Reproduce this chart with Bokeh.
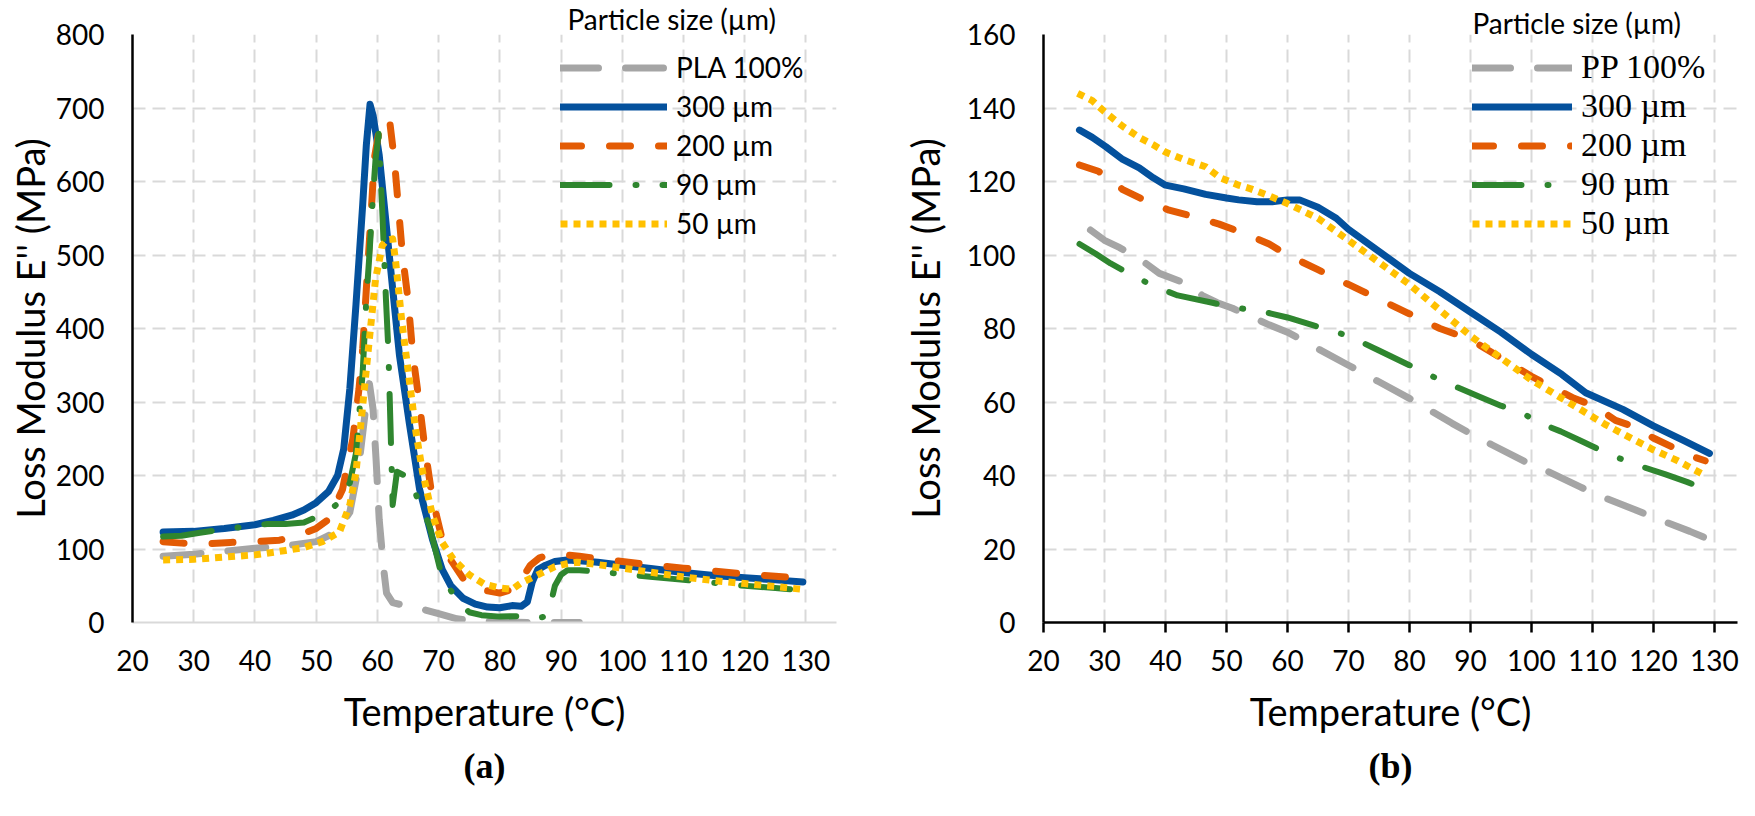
from bokeh.plotting import figure
from bokeh.models import Range1d, FixedTicker, Legend, LegendItem, Title
from bokeh.layouts import row
from bokeh.embed import file_html
from bokeh.resources import INLINE

# ---------------- data (a): PLA composites ----------------
x_ticks = [20, 30, 40, 50, 60, 70, 80, 90, 100, 110, 120, 130]
a_y_ticks = [0, 100, 200, 300, 400, 500, 600, 700, 800]
b_y_ticks = [0, 20, 40, 60, 80, 100, 120, 140, 160]

a_pla_T = [25, 30, 35, 40, 45, 50, 52, 54, 55.5, 57, 58, 58.7, 59.3, 59.8, 60.3, 61, 61.5, 62.5, 65, 67, 70, 73, 76, 80, 85, 93]
a_pla_E = [90, 93, 97, 101, 104, 110, 118, 132, 150, 215, 285, 325, 290, 220, 140, 75, 40, 27, 22, 19, 12, 5, 2, 1, 0, 0]

a_300_T = [25, 30, 35, 40, 43, 46, 48, 50, 52, 53.5, 54.5, 55.5, 56.5, 57.6, 58.2, 58.8, 59.3, 60.3, 61.4, 62.5, 63.6, 65.2,
           66.9, 69, 70.6, 72, 74, 76, 78, 80, 82, 83.5, 84.5, 85.3, 86.2, 87.5, 89, 91, 93, 96, 100, 105, 110, 115, 120, 125, 129.5]
a_300_E = [123, 124, 128, 133, 139, 146, 153, 163, 178, 200, 236, 318, 432, 568, 650, 705, 690, 636, 545, 454, 364, 272,
           181, 113, 72, 50, 33, 25, 21, 20, 23, 22, 28, 55, 72, 78, 83, 85, 84, 82, 78, 73, 68, 64, 61, 58, 55]

a_200_T = [25, 28, 32, 36, 40, 44, 47, 50, 52, 54.3, 56, 57, 57.6, 58.2, 59, 59.5, 60.3, 61.3, 62, 62.8, 64.1, 65, 65.8,
           66.9, 67.7, 69, 70.6, 72, 74, 76, 78, 80, 82, 83.5, 85, 86.5, 88, 90, 93, 97, 100, 105, 110, 115, 120, 125, 129.5]
a_200_E = [110, 108, 107, 109, 110, 112, 118, 128, 140, 181, 250, 318, 372, 454, 559, 631, 670, 686, 683, 627, 500, 440, 364,
           296, 241, 168, 113, 85, 60, 50, 43, 40, 45, 58, 78, 88, 92, 93, 90, 86, 83, 78, 74, 70, 66, 63, 60]

a_90_T = [25, 28, 31, 35, 38, 42, 45, 48, 50.7, 52.5, 54, 55.5, 56.5, 57.6, 58.2, 58.7, 59.2, 59.7, 60.2, 60.8, 61.4, 61.8,
          62.5, 63.2, 65.2, 66.5, 68.5, 70.5, 73, 75, 77, 80, 84, 86, 87.5, 88.3, 89, 90, 91, 93, 95, 100, 105, 110, 115,
          120, 125, 129.5]
a_90_E = [117, 118, 122, 127, 130, 134, 134, 136, 146, 155, 165, 190, 230, 340, 440, 500, 570, 630, 665, 560, 440, 370,
          160, 205, 197, 170, 132, 64, 30, 14, 10, 8, 9, 6, 8, 25, 50, 65, 71, 71, 70, 66, 62, 58, 54, 50, 47, 44]

a_50_T = [25, 30, 35, 40, 45, 48, 51, 53.8, 55.5, 56.5, 57.6, 58.7, 59.7, 60.8, 61.5, 62.5, 63, 64, 65.2, 66.3, 67.4, 69,
          70.5, 72.4, 75, 77.5, 80, 82, 83.5, 85.5, 87.5, 89, 91, 92.6, 95, 100, 105, 110, 115, 120, 125, 129.5]
a_50_E = [85, 86, 89, 92, 98, 102, 110, 123, 160, 204, 295, 386, 467, 513, 520, 522, 490, 409, 331, 259, 204, 146,
          110, 86, 65, 52, 47, 45, 54, 62, 70, 76, 80, 82, 80, 74, 68, 62, 57, 53, 49, 45]

# ---------------- data (b): PP composites ----------------
b_pp_T = [27.7, 30, 32.5, 36.7, 39, 44.4, 46, 48.5, 51, 53.5, 57, 60, 65, 70, 75, 80, 87, 90.8, 93.6, 99.3, 102, 108,
          110.8, 117, 120, 126, 129]
b_pp_E = [106.8, 104, 102, 97.8, 95, 91.6, 89, 87, 85.5, 83.6, 81, 79, 74.5, 70, 65.5, 61, 54.2, 50.7, 48.3, 43.5, 41.7,
          36.9, 34.7, 30.7, 28.6, 24.8, 22.7]

b_300_T = [25.9, 28, 30.2, 33, 35.7, 38, 40, 43, 46.6, 50, 52, 55, 57.5, 60, 62, 65, 68, 70, 75, 80, 85, 90, 95, 100,
           105, 108.9, 115, 120, 125, 129.2]
b_300_E = [134, 132, 129.5, 126, 123.7, 121, 119, 118, 116.5, 115.5, 115, 114.5, 114.5, 115, 115, 113, 110, 107, 101, 95,
           90, 84.5, 79, 73, 67.5, 62.5, 58, 53.5, 49.5, 46]

b_200_T = [25.9, 29, 33, 36.7, 40.6, 45, 48.8, 53, 57, 60, 65, 70, 75, 80, 85, 90, 95, 100, 104, 107, 110.5, 113.8,
           116.6, 120, 122.8, 126, 128.5]
b_200_E = [124.5, 122.8, 117.8, 114.8, 112.2, 110.3, 108.4, 105.8, 103, 100, 96, 92, 88, 84, 80, 77, 72, 67, 63.5, 61,
           58.8, 55, 53.4, 50.2, 48, 45.4, 44]

b_90_T = [25.9, 28.5, 31, 34, 38, 40, 42, 47.7, 51, 55, 57.5, 60, 65, 70, 75, 80, 85, 91.5, 95, 98.5, 101.5, 104.8, 108,
          111.6, 115, 118.5, 122, 125.6, 128.9]
b_90_E = [103, 100.4, 97.7, 95, 91.6, 90.3, 89, 87, 85.7, 85, 84, 83, 80.5, 78, 74, 70, 66, 61.4, 59, 57, 54.2, 52, 49.5,
          46.7, 44.3, 42.2, 40.3, 38.2, 36]

b_50_T = [25.6, 28, 30, 33, 35.7, 38, 40, 43, 46.6, 49, 52, 54, 56.4, 60, 65, 70, 75, 80, 85, 90, 95, 100, 104, 108, 112,
          116.5, 120, 124, 128.5]
b_50_E = [144, 142, 139, 135, 132, 130, 128, 126, 124, 121, 119, 118, 116.5, 114, 110, 104, 98, 92, 85, 78, 72, 66, 62,
          58, 54, 50, 47, 44, 40]

a_labels = ["PLA 100%", "300 \u00b5m", "200 \u00b5m", "90 \u00b5m", "50 \u00b5m"]
b_labels = ["PP 100%", "300 \u00b5m", "200 \u00b5m", "90 \u00b5m", "50 \u00b5m"]
legend_title = "Particle size (\u00b5m)"

SANS = "Lato"
SERIF = "Liberation Serif"

styles = [
    dict(line_color="#A5A5A5", line_width=7, line_dash="38 27", line_cap="round", line_join="round"),
    dict(line_color="#04519D", line_width=7, line_cap="round", line_join="round"),
    dict(line_color="#E35B04", line_width=7, line_dash="21 28", line_cap="round", line_join="round"),
    dict(line_color="#2F862F", line_width=6, line_dash="49 26 1 26", line_cap="round", line_join="round"),
    dict(line_color="#FFC000", line_width=7, line_dash="7 6", line_cap="butt", line_join="round"),
]


def make_plot(series, labels, y_ticks, y_end, x_end, borders, panel, legend_loc, legend_font, legend_size,
              legend_spacing, glyph_w, head_offset, head_standoff, dark_xaxis, title_offset, ylab_standoff):
    bl, br, bt, bb, w = borders
    p = figure(width=w, height=800, x_range=Range1d(20, x_end), y_range=Range1d(0, y_end),
               output_backend="svg", toolbar_location=None,
               min_border_left=bl, min_border_right=br, min_border_top=bt, min_border_bottom=bb)
    p.outline_line_color = None
    p.background_fill_color = "white"
    p.border_fill_color = "white"

    p.xaxis.ticker = FixedTicker(ticks=x_ticks)
    p.yaxis.ticker = FixedTicker(ticks=y_ticks)
    for g in (p.xgrid, p.ygrid):
        g.grid_line_color = "#D9D9D9"
        g.grid_line_width = 2
        g.grid_line_dash = "13 7"

    for ax in (p.xaxis, p.yaxis):
        ax.major_label_text_font = SANS
        ax.major_label_text_font_size = "28px"
        ax.major_label_text_color = "black"
        ax.axis_label_text_font = SANS
        ax.axis_label_text_font_size = "38px"
        ax.axis_label_text_font_style = "normal"
        ax.axis_label_text_color = "black"
        ax.minor_tick_line_color = None

    p.yaxis.axis_line_color = "black"
    p.yaxis.axis_line_width = 2.5
    p.yaxis.major_tick_line_color = None
    p.yaxis.major_tick_out = 0
    p.yaxis.major_tick_in = 0
    p.yaxis.major_label_standoff = 28
    p.yaxis.axis_label = "Loss Modulus E'' (MPa)"
    p.yaxis.axis_label_standoff = ylab_standoff

    if dark_xaxis:
        p.xaxis.axis_line_color = "black"
        p.xaxis.axis_line_width = 2.5
        p.xaxis.major_tick_line_color = "black"
        p.xaxis.major_tick_line_width = 2.5
        p.xaxis.major_tick_out = 10
        p.xaxis.major_tick_in = 0
        p.xaxis.major_label_standoff = 17
    else:
        p.xaxis.axis_line_color = "#D9D9D9"
        p.xaxis.axis_line_width = 2
        p.xaxis.major_tick_line_color = None
        p.xaxis.major_tick_out = 0
        p.xaxis.major_tick_in = 0
        p.xaxis.major_label_standoff = 27
    p.xaxis.axis_label = "Temperature (\u00b0C)"
    p.xaxis.axis_label_standoff = 14

    items = []
    for (T, E), lab, st in zip(series, labels, styles):
        r = p.line(T, E, **st)
        items.append(LegendItem(label=lab, renderers=[r]))

    leg = Legend(items=items, location=legend_loc,
                 label_text_font=legend_font, label_text_font_size=legend_size,
                 label_text_color="black",
                 glyph_width=glyph_w, glyph_height=31, label_height=31, label_standoff=9,
                 spacing=legend_spacing, padding=0, margin=0,
                 background_fill_alpha=0, border_line_alpha=0)
    p.add_layout(leg, "center")

    # legend heading, drawn above the frame
    p.add_layout(Title(text=legend_title, align="left", offset=head_offset, standoff=head_standoff,
                       text_font=SANS, text_font_size="28px", text_font_style="normal",
                       text_color="black"), "above")

    p.add_layout(Title(text=panel, align="center", text_font=SERIF, text_font_size="36px",
                       text_font_style="bold", text_color="black", offset=title_offset,
                       standoff=14), "below")
    return p


series_a = [(a_pla_T, a_pla_E), (a_300_T, a_300_E), (a_200_T, a_200_E), (a_90_T, a_90_E), (a_50_T, a_50_E)]
series_b = [(b_pp_T, b_pp_E), (b_300_T, b_300_E), (b_200_T, b_200_E), (b_90_T, b_90_E), (b_50_T, b_50_E)]

p1 = make_plot(series_a, a_labels, a_y_ticks, 800, 135, (132, 33, 34, 178, 869), "(a)",
               (428, 382), SANS, "28px", 5, 107, 435, -2, False, -20, 0)
p2 = make_plot(series_b, b_labels, b_y_ticks, 160, 133.8, (174, 2, 26, 175, 870), "(b)",
               (429, 380), SERIF, "34px", 1, 100, 429, -10, True, 10, 16)

layout = row(p1, p2)
open("out.html", "w").write(file_html(layout, INLINE))
